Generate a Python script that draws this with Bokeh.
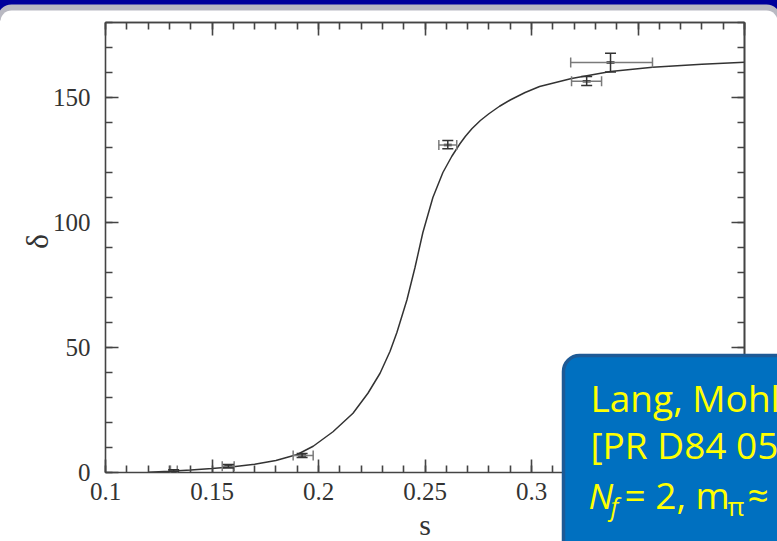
import math

from bokeh.core.properties import value
from bokeh.embed import file_html
from bokeh.models import (ColumnDataSource, FixedTicker, LinearAxis, Range1d,
                          TeeHead, Whisker)
from bokeh.plotting import figure
from bokeh.resources import INLINE

# ---- data -------------------------------------------------------------
# fitted phase-shift curve delta(s)
curve_s = [0.120, 0.130, 0.140, 0.150, 0.160, 0.170, 0.180, 0.190, 0.1975,
           0.2068, 0.2162, 0.2232, 0.2289, 0.2336, 0.2368, 0.2415, 0.2453,
           0.2490, 0.2537, 0.2584, 0.2626, 0.2664, 0.2690, 0.2720, 0.2760,
           0.2800, 0.2850, 0.2900, 0.2970, 0.3038, 0.3188, 0.3371, 0.3568,
           0.3800, 0.4000]
curve_delta = [0.1, 0.5, 1.0, 1.6, 2.3, 3.3, 4.8, 7.2, 10.5,
               16.3, 23.7, 31.7, 39.7, 48.5, 56.0, 69.0, 82.0,
               96.0, 110.0, 120.0, 126.5, 131.5, 134.5, 137.5, 140.8,
               143.5, 146.5, 149.0, 152.0, 154.4, 157.6, 160.4, 162.1,
               163.3, 164.1]

# lattice points with their error ranges
pt_s = [0.1320, 0.1577, 0.1923, 0.2607, 0.3259, 0.3371]
pt_delta = [0.8, 2.5, 6.8, 131.0, 156.5, 164.0]
pt_s_lo = [0.1305, 0.1548, 0.1881, 0.2565, 0.3188, 0.3184]
pt_s_hi = [0.1337, 0.1604, 0.1975, 0.2649, 0.3329, 0.3568]
pt_delta_lo = [0.5, 1.8, 6.0, 129.5, 154.8, 160.2]
pt_delta_hi = [1.1, 3.2, 7.6, 132.8, 158.4, 167.7]

x_ticks = [0.1, 0.15, 0.2, 0.25, 0.3, 0.35, 0.4]
x_tick_labels = ["0.1", "0.15", "0.2", "0.25", "0.3", "0.35", "0.4"]
x_minor = [round(0.1 + 0.01 * i, 2) for i in range(31)]
y_ticks = [0, 50, 100, 150]
y_tick_labels = ["0", "50", "100", "150"]
y_minor = list(range(0, 181, 10))

ref_lines = ["Lang, Mohler, Prelovsek, Vidmar", "[PR D84 054503 (2011)]"]

# ---- layout -----------------------------------------------------------
W, H = 777, 541
FL, FR, FT, FB = 105, 744, 22, 472   # frame edges in page pixels
X0, X1, Y0, Y1 = 0.1, 0.4, 0.0, 180.0


def px_x(px):
    """page pixel column -> s"""
    return X0 + (px - FL) * (X1 - X0) / (FR - FL)


def px_y(py):
    """page pixel row -> delta"""
    return Y0 + (FB - py) * (Y1 - Y0) / (FB - FT)


p = figure(width=W, height=H, output_backend="svg", toolbar_location=None,
           x_range=Range1d(X0, X1), y_range=Range1d(Y0, Y1),
           x_axis_location=None, y_axis_location=None,
           min_border_left=FL, min_border_right=W - FR,
           min_border_top=FT, min_border_bottom=H - FB)
p.outline_line_color = None
p.grid.visible = False
p.background_fill_color = "white"
p.border_fill_color = "white"

AX = "#444444"
SERIF = "Liberation Serif"


def style_axis(ax):
    ax.axis_line_color = AX
    ax.axis_line_width = 1.6
    ax.major_tick_line_color = AX
    ax.major_tick_line_width = 1.6
    ax.minor_tick_line_color = AX
    ax.minor_tick_line_width = 1.6
    ax.major_tick_in = 13
    ax.major_tick_out = 0
    ax.minor_tick_in = 7
    ax.minor_tick_out = 0
    return ax


def labelled_axis(ticks, minor, labels, standoff):
    ax = style_axis(LinearAxis(ticker=FixedTicker(ticks=ticks, minor_ticks=minor)))
    ax.major_label_overrides = dict(zip(ticks, labels))
    ax.major_label_text_font = SERIF
    ax.major_label_text_font_size = "25px"
    ax.major_label_text_color = "#333333"
    ax.major_label_standoff = standoff
    return ax


def mirror_axis(ticks, length):
    """Unlabelled spine for the top/right edges: tick marks only."""
    ax = style_axis(LinearAxis(ticker=FixedTicker(ticks=[], minor_ticks=ticks)))
    ax.minor_tick_in = length
    ax.major_label_standoff = 0
    return ax


p.add_layout(labelled_axis(x_ticks, x_minor, x_tick_labels, 10), "below")
p.add_layout(labelled_axis(y_ticks, y_minor, y_tick_labels, 15), "left")
p.add_layout(mirror_axis(x_minor, 7), "above")
p.add_layout(mirror_axis(x_ticks, 13), "above")
p.add_layout(mirror_axis(y_minor, 7), "right")
p.add_layout(mirror_axis(y_ticks, 13), "right")

# slide frame along the top: dark band, grey rim, white rounded panel edge
p.quad(left=[px_x(-20)], right=[px_x(800)], top=[px_y(-20)], bottom=[px_y(14)],
       fill_color="#00009c", line_color=None, level="guide")
p.quad(left=[px_x(-3)], right=[px_x(780)], top=[px_y(4)], bottom=[px_y(20)],
       fill_color="#b9b9c2", line_color=None, border_radius=(14, 14, 0, 0),
       level="guide")
p.quad(left=[px_x(0)], right=[px_x(777)], top=[px_y(10)], bottom=[px_y(21)],
       fill_color="white", line_color=None, border_radius=(12, 12, 0, 0),
       level="guide")

# fitted curve
p.line(curve_s, curve_delta, line_color="#333333", line_width=1.5)

# error bars
src = ColumnDataSource(dict(s=pt_s, d=pt_delta, s_lo=pt_s_lo, s_hi=pt_s_hi,
                            d_lo=pt_delta_lo, d_hi=pt_delta_hi))
p.add_layout(Whisker(source=src, base="d", lower="s_lo", upper="s_hi",
                     dimension="width", line_color="#7a7a7a", line_width=1.5,
                     lower_head=TeeHead(size=10, line_color="#7a7a7a", line_width=1.5),
                     upper_head=TeeHead(size=10, line_color="#7a7a7a", line_width=1.5),
                     level="annotation"))
p.add_layout(Whisker(source=src, base="s", lower="d_lo", upper="d_hi",
                     dimension="height", line_color="#333333", line_width=1.5,
                     lower_head=TeeHead(size=11, line_color="#333333", line_width=1.5),
                     upper_head=TeeHead(size=11, line_color="#333333", line_width=1.5),
                     level="annotation"))
p.scatter(pt_s, pt_delta, marker="dash", size=8, line_width=2.5,
          line_color="#222222")

# axis titles (vertically centred on their row)
p.text(x=[px_x((FL + FR) / 2)], y=[px_y(523.5)], text=["s"],
       text_align="center", text_baseline="middle",
       text_font=value(SERIF), text_font_size="30px", text_color="#333333",
       level="overlay")
p.text(x=[px_x(36)], y=[px_y(241)], text=["δ"], angle=math.pi / 2,
       text_align="center", text_baseline="middle",
       text_font=value(SERIF), text_font_size="32px", text_color="#333333",
       level="overlay")

# reference box (covers the lower right corner of the axes)
p.quad(left=[px_x(563)], right=[px_x(800)], top=[px_y(355)], bottom=[px_y(600)],
       fill_color="#0070c0", line_color="#1d5a96", line_width=3.5,
       border_radius=16, level="overlay")

BOX_FONT = "Open Sans"
YEL = "#ffff00"


def box_text(px, baseline, text, size=37, style="normal"):
    # text rows are placed by their middle; shift up from the baseline
    mid = baseline - 0.38 * size
    p.text(x=[px_x(px)], y=[px_y(mid)], text=[text], text_align="left",
           text_baseline="middle", text_font=value(BOX_FONT),
           text_font_size=f"{size}px", text_font_style=style, text_color=YEL,
           level="overlay")


box_text(590, 411, ref_lines[0])
box_text(590, 458, ref_lines[1])
box_text(588, 508, "N", size=35, style="italic")
box_text(610, 515, "f", size=25, style="italic")
box_text(624, 508, "= 2, m")
box_text(727, 515, "π", size=26)
box_text(747, 508, "≈ 266 MeV")

open("out.html", "w").write(file_html(p, INLINE))
